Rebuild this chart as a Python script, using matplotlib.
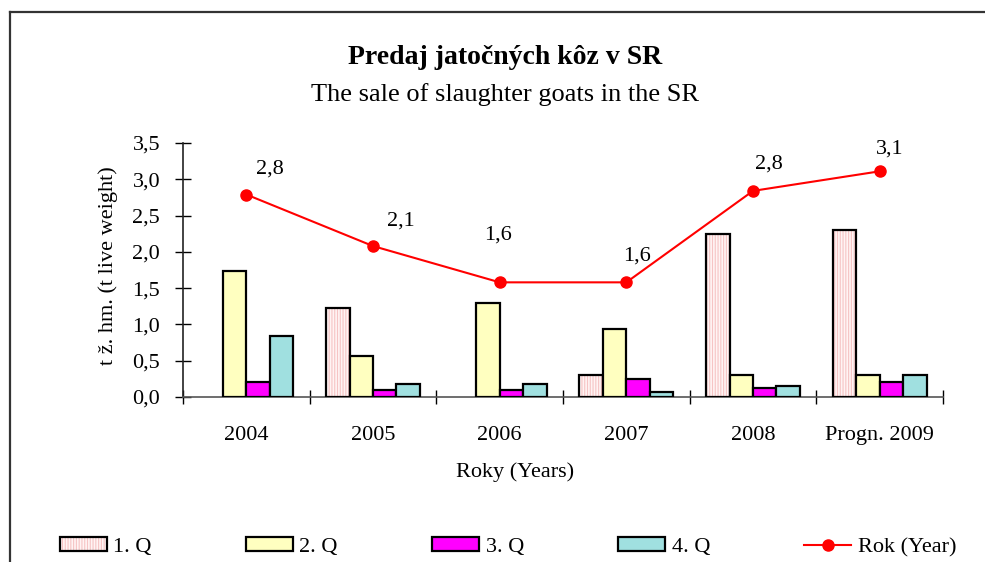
import numpy as np
import matplotlib
matplotlib.use("Agg")
import matplotlib.pyplot as plt
from matplotlib.lines import Line2D
from matplotlib.patches import Patch
from matplotlib.legend_handler import HandlerTuple

# data
years = ["2004", "2005", "2006", "2007", "2008", "Progn. 2009"]
q1 = [0.0, 1.22, 0.0, 0.30, 2.25, 2.30]
q2 = [1.74, 0.57, 1.29, 0.94, 0.30, 0.30]
q3 = [0.20, 0.10, 0.10, 0.25, 0.12, 0.20]
q4 = [0.84, 0.175, 0.175, 0.07, 0.15, 0.30]
year_total = [2.79, 2.08, 1.58, 1.58, 2.84, 3.11]
y_ticks = [0.0, 0.5, 1.0, 1.5, 2.0, 2.5, 3.0, 3.5]
y_tick_labels = ["0,0", "0,5", "1,0", "1,5", "2,0", "2,5", "3,0", "3,5"]
series_names = ["1. Q", "2. Q", "3. Q", "4. Q", "Rok (Year)"]

# label offsets (pixels) of the yearly values, as placed in the original
label_offsets = [(24, 25), (28, 25), (-2, 47), (11, 26), (16, 27), (10, 22)]

plt.rcParams["font.family"] = ["Liberation Serif", "DejaVu Serif"]
plt.rcParams["hatch.linewidth"] = 0.8
FS = 16

fig = plt.figure(figsize=(9.85, 5.62), dpi=100)
ax = fig.add_axes([183 / 985, 1 - 397 / 562, (943 - 183) / 985, (397 - 143) / 562])

x = np.arange(len(years))
w = 0.185
offs = np.array([-1.5, -0.5, 0.5, 1.5]) * w
q1_face, q1_hatch = "#fff4f4", "#f6c4c4"

# empty quarters are not drawn at all (no outline on the axis)
def nz(vals):
    return np.where(np.asarray(vals) > 0, vals, np.nan)

# 1. Q: pink dotted fill + black outline
ax.bar(x + offs[0], nz(q1), w, facecolor=q1_face, edgecolor=q1_hatch, hatch="||||||", linewidth=0, zorder=2)
ax.bar(x + offs[0], nz(q1), w, fill=False, edgecolor="black", linewidth=1.6, zorder=3)
ax.bar(x + offs[1], nz(q2), w, color="#ffffc0", edgecolor="black", linewidth=1.6, zorder=3)
ax.bar(x + offs[2], nz(q3), w, color="#ff00ff", edgecolor="black", linewidth=1.6, zorder=3)
ax.bar(x + offs[3], nz(q4), w, color="#a0e0e0", edgecolor="black", linewidth=1.6, zorder=3)

ax.plot(x, year_total, color="#ff0000", linewidth=1.5, marker="o", markersize=8, zorder=4)
for xi, v, (dx, dy) in zip(x, year_total, label_offsets):
    ax.annotate(f"{v:.1f}".replace(".", ","), (xi, v), xytext=(dx / 1.389, dy / 1.389),
                textcoords="offset points", ha="center", va="center", fontsize=FS)

# axes styling
ax.set_xlim(-0.5, len(years) - 0.5)
ax.set_ylim(0, 3.5)
ax.set_yticks(y_ticks)
ax.set_yticklabels(y_tick_labels)
ax.set_xticks(x)
ax.set_xticklabels(years)
ax.set_xticks(np.arange(-0.5, len(years)), minor=True)
ax.tick_params(axis="x", which="major", length=0, pad=21, labelsize=FS)
ax.tick_params(axis="x", which="minor", direction="inout", length=10, width=1)
ax.tick_params(axis="y", direction="inout", length=11, width=1, pad=11, labelsize=FS)
for s in ["top", "right"]:
    ax.spines[s].set_visible(False)
ax.spines["left"].set_color("#222222")
ax.spines["bottom"].set_color("#555555")
ax.spines["left"].set_linewidth(1.2)
ax.spines["bottom"].set_linewidth(1.2)

fig.text(108 / 985, 1 - 266 / 562, "t ž. hm. (t live weight)", rotation=90,
         ha="center", va="center", fontsize=FS)
fig.text(515 / 985, 1 - 472 / 562, "Roky (Years)", ha="center", va="center", fontsize=FS)

# titles
fig.text(505 / 985, 1 - 57 / 562, "Predaj jatočných kôz v SR", ha="center", va="center",
         fontsize=20, fontweight="bold")
fig.text(505 / 985, 1 - 95 / 562, "The sale of slaughter goats in the SR", ha="center",
         va="center", fontsize=19)

# outer border (only left and top visible)
fig.add_artist(Line2D([10 / 985, 10 / 985], [0, 1 - 12 / 562], color="#333333", linewidth=1.6,
                      transform=fig.transFigure))
fig.add_artist(Line2D([10 / 985, 1], [1 - 12 / 562, 1 - 12 / 562], color="#333333", linewidth=1.6,
                      transform=fig.transFigure))

# legend
h1 = (Patch(facecolor=q1_face, edgecolor=q1_hatch, hatch="||||||", linewidth=0),
      Patch(fill=False, edgecolor="black", linewidth=1.6))
h2 = Patch(facecolor="#ffffc0", edgecolor="black", linewidth=1.6)
h3 = Patch(facecolor="#ff00ff", edgecolor="black", linewidth=1.6)
h4 = Patch(facecolor="#a0e0e0", edgecolor="black", linewidth=1.6)
h5 = Line2D([], [], color="#ff0000", linewidth=1.5, marker="o", markersize=8)
fig.legend([h1, h2, h3, h4, h5], series_names, handler_map={tuple: HandlerTuple(ndivide=1)},
           loc="center left", bbox_to_anchor=(60 / 985, 1 - 547 / 562), ncol=5, frameon=False,
           fontsize=FS, handlelength=2.1, handleheight=0.62, handletextpad=0.3,
           columnspacing=4.25, borderpad=0, borderaxespad=0)

fig.savefig("out.png", dpi=100)
